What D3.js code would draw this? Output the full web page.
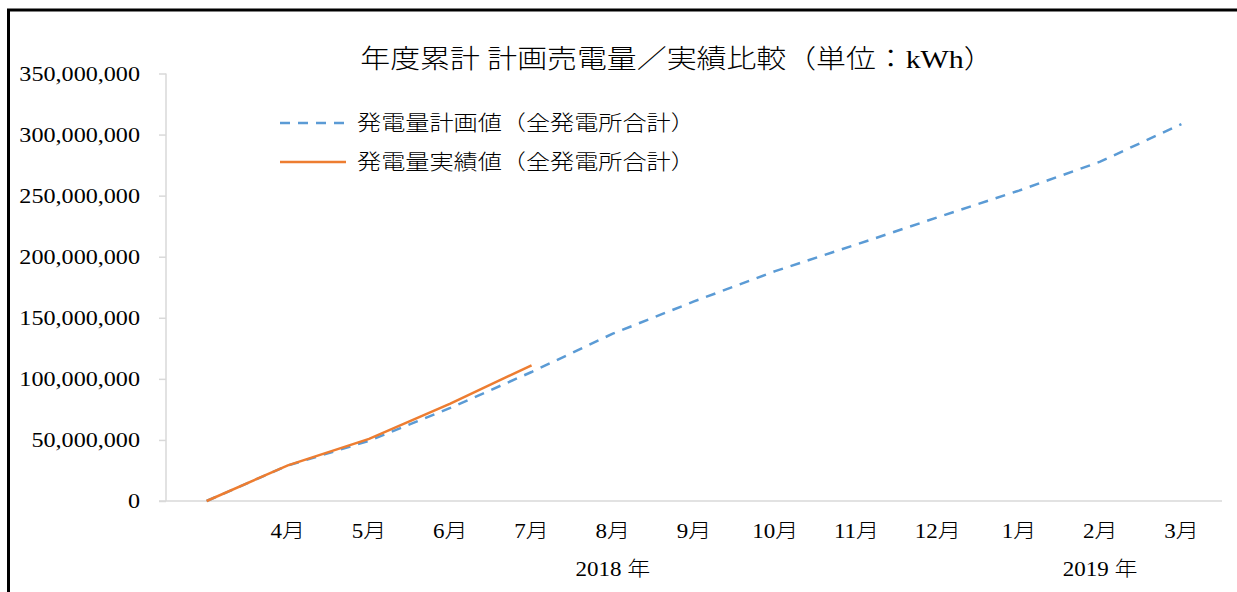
<!DOCTYPE html>
<html>
<head>
<meta charset="utf-8">
<script src="https://cdn.jsdelivr.net/npm/d3@7"></script>
<style>
  html, body { margin: 0; padding: 0; background: #fff; }
  svg text { font-family: "Liberation Serif", "Noto Sans CJK JP", serif; fill: #000; font-weight: 300; }
</style>
</head>
<body>
<svg id="chart"></svg>
<script>
// Chart data
const categories = ['', '4月', '5月', '6月', '7月', '8月', '9月', '10月', '11月', '12月', '1月', '2月', '3月'];
const planValues = [0, 29.0e6, 49.3e6, 76.2e6, 105.6e6, 137.0e6, 163.4e6, 188.2e6, 210.0e6, 232.3e6, 254.1e6, 277.8e6, 308.6e6];
const actualValues = [0, 29.2e6, 50.9e6, 79.8e6, 111.1e6];
const yTickValues = [0, 50e6, 100e6, 150e6, 200e6, 250e6, 300e6, 350e6];
const yearLabels = ['2018 年', '2019 年'];
const yearFirstMonth = ['4月', '1月'];
const yearLastMonth = ['12月', '3月'];
const seriesNames = ['発電量計画値（全発電所合計）', '発電量実績値（全発電所合計）'];
const chartTitle = '年度累計 計画売電量／実績比較（単位：kWh）';

const translate = (x, y) => `translate(${x}, ${y})`;

// Dimensions
const WIDTH = 1237;
const HEIGHT = 592;
const PLOT_LEFT = 166;
const PLOT_RIGHT = 1222;
const PLOT_TOP = 73.5;
const PLOT_BOTTOM = 501;
const TEXT_STRETCH = 1.15; // source glyphs are a little wider than ours

const AXIS_COLOR = '#d9d9d9';
const PLAN_COLOR = '#5b9bd5';
const ACTUAL_COLOR = '#ed7d31';

const svg = d3.select('#chart')
  .attr('width', WIDTH)
  .attr('height', HEIGHT);

// outer frame, runs past the right and bottom edges
svg.append('rect')
  .attr('x', 8.5)
  .attr('y', 10)
  .attr('width', WIDTH)
  .attr('height', HEIGHT)
  .attr('fill', 'none')
  .attr('stroke', '#000')
  .attr('stroke-width', 3);

const x = d3.scaleBand()
  .domain(categories)
  .range([PLOT_LEFT, PLOT_RIGHT])
  .padding(0);

const xCenter = cat => x(cat) + x.bandwidth() / 2;

const y = d3.scaleLinear()
  .domain([0, 350e6])
  .range([PLOT_BOTTOM, PLOT_TOP]);

// stretched text drawn around its own anchor
const addText = (parent, tx, ty, str, size, anchor) => parent.append('text')
  .attr('transform', `${translate(tx, ty)} scale(${TEXT_STRETCH}, 1)`)
  .attr('text-anchor', anchor)
  .attr('dominant-baseline', 'central')
  .style('font-size', `${size}px`)
  .text(str);

// Title
addText(svg, 677, 59, chartTitle, 26, 'middle');

// Y axis
const yAxis = svg.append('g')
  .attr('transform', translate(PLOT_LEFT, 0))
  .call(d3.axisLeft(y).tickValues(yTickValues).tickFormat(d3.format(',')).tickSize(7).tickPadding(0));

yAxis.select('.domain').remove();
yAxis.selectAll('.tick line')
  .attr('stroke', AXIS_COLOR)
  .attr('stroke-width', 1.5);
yAxis.selectAll('.tick text')
  .attr('x', 0)
  .attr('dy', null)
  .attr('dominant-baseline', 'central')
  .attr('transform', `translate(-26, 0) scale(${TEXT_STRETCH}, 1)`)
  .style('font-size', '21px')
  .style('font-family', '"Liberation Serif", serif');

yAxis.append('line')
  .attr('y1', PLOT_TOP)
  .attr('y2', PLOT_BOTTOM)
  .attr('stroke', AXIS_COLOR)
  .attr('stroke-width', 1.5);

// X axis baseline and month labels
const xAxis = svg.append('g')
  .attr('transform', translate(0, PLOT_BOTTOM))
  .call(d3.axisBottom(x).tickSize(0).tickPadding(0));

xAxis.select('.domain')
  .attr('d', `M${PLOT_LEFT - 7},0H${PLOT_RIGHT}`)
  .attr('stroke', AXIS_COLOR)
  .attr('stroke-width', 1.5);
xAxis.selectAll('.tick text')
  .attr('y', 0)
  .attr('dy', null)
  .attr('dominant-baseline', 'central')
  .attr('transform', `translate(0, 31) scale(${TEXT_STRETCH}, 1)`)
  .style('font-size', '20px');

// year group labels
yearLabels.forEach((label, i) => {
  const cx = (xCenter(yearFirstMonth[i]) + xCenter(yearLastMonth[i])) / 2;
  addText(svg, cx, 570, label, 20, 'middle');
});

// Series lines
const line = d3.line()
  .x((_, i) => xCenter(categories[i]))
  .y(v => y(v));

svg.append('path')
  .datum(planValues)
  .attr('d', line)
  .attr('fill', 'none')
  .attr('stroke', PLAN_COLOR)
  .attr('stroke-width', 2.5)
  .attr('stroke-dasharray', '10 8');

svg.append('path')
  .datum(actualValues)
  .attr('d', line)
  .attr('fill', 'none')
  .attr('stroke', ACTUAL_COLOR)
  .attr('stroke-width', 2.5);

// Legend
const legend = svg.append('g').attr('transform', translate(280, 123));
const legendStyles = [
  { color: PLAN_COLOR, dash: '10 8' },
  { color: ACTUAL_COLOR, dash: null },
];

seriesNames.forEach((name, i) => {
  const row = legend.append('g').attr('transform', translate(0, i * 39));
  row.append('line')
    .attr('x1', 0)
    .attr('x2', 66)
    .attr('stroke', legendStyles[i].color)
    .attr('stroke-width', 2.5)
    .attr('stroke-dasharray', legendStyles[i].dash);
  addText(row, 77, 0, name, 21, 'start');
});
</script>
</body>
</html>
